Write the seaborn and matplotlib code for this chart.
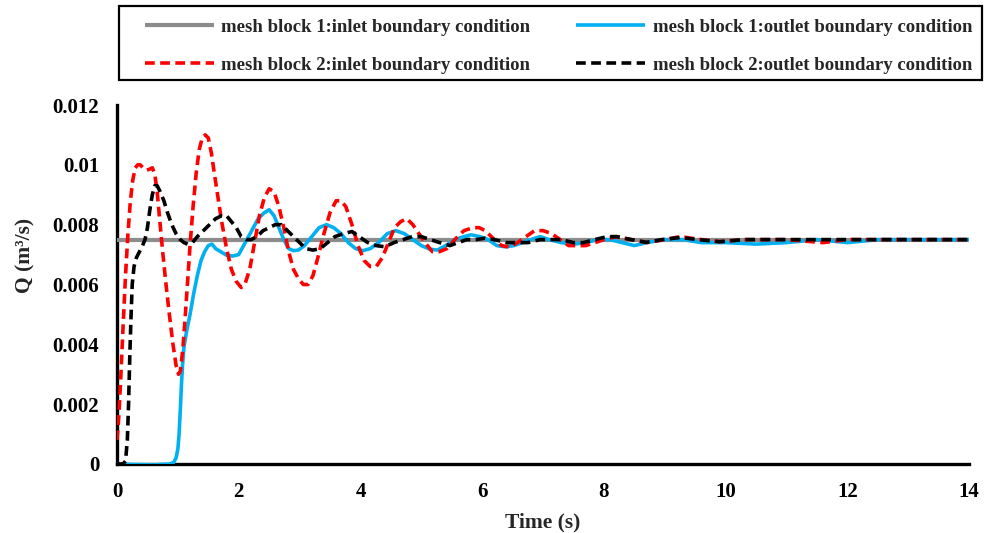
import numpy as np
import pandas as pd
import matplotlib
matplotlib.use("Agg")
import matplotlib.pyplot as plt
from matplotlib.patches import Rectangle
import seaborn as sns

# data (time in s, Q in m3/s)
t_inlet1 = [0, 14]
q_inlet1 = [0.0075, 0.0075]

t_outlet1 = [0, 0.3, 0.6, 0.87, 0.93, 0.97, 1.0, 1.02, 1.04, 1.06, 1.08, 1.1, 1.14,
             1.2, 1.26, 1.32, 1.38, 1.44, 1.5, 1.56, 1.62, 1.7, 1.8, 1.9, 2.0,
             2.08, 2.16, 2.24, 2.32, 2.42, 2.5, 2.58, 2.66, 2.74, 2.82, 2.9, 2.98,
             3.08, 3.2, 3.32, 3.44, 3.56, 3.68, 3.8, 3.92, 4.04, 4.16, 4.3, 4.44,
             4.58, 4.72, 4.86, 5.0, 5.14, 5.26, 5.4, 5.55, 5.7, 5.82, 5.96, 6.1,
             6.24, 6.38, 6.52, 6.66, 6.8, 6.95, 7.1, 7.3, 7.5, 7.7, 7.9, 8.1, 8.3,
             8.5, 8.7, 9.0, 9.3, 9.6, 10.0, 10.5, 11.0, 11.5, 12.0, 12.5, 14]
q_outlet1 = [0.0, -0.00002, -0.00003, 0.0, 0.00005, 0.0002, 0.0005, 0.001, 0.0018,
             0.0027, 0.0034, 0.0039, 0.0044, 0.005, 0.0057, 0.0063, 0.0068,
             0.0071, 0.0073, 0.00735, 0.0072, 0.0071, 0.00698, 0.00695, 0.007,
             0.0073, 0.0076, 0.0079, 0.0082, 0.0084, 0.0085, 0.0083, 0.0079,
             0.0075, 0.0072, 0.00713, 0.00715, 0.0073, 0.0076, 0.0079, 0.008,
             0.0079, 0.0077, 0.0074, 0.0072, 0.00713, 0.0072, 0.0074, 0.0077,
             0.0078, 0.0077, 0.0075, 0.0073, 0.00718, 0.00715, 0.0073, 0.0075,
             0.0076, 0.00766, 0.0076, 0.0075, 0.0073, 0.00726, 0.0073, 0.0074,
             0.0075, 0.0076, 0.0075, 0.0074, 0.00735, 0.0074, 0.0075, 0.0075,
             0.0074, 0.0073, 0.0074, 0.0075, 0.0075, 0.0074, 0.0074, 0.00735,
             0.0074, 0.0075, 0.0074, 0.0075, 0.0075]

t_inlet2 = [0, 0.03, 0.06, 0.1, 0.14, 0.18, 0.22, 0.26, 0.3, 0.34, 0.38, 0.43,
            0.48, 0.53, 0.58, 0.62, 0.66, 0.7, 0.75, 0.8, 0.86, 0.92, 0.97, 1.01,
            1.04, 1.08, 1.12, 1.16, 1.2, 1.25, 1.3, 1.35, 1.4, 1.45, 1.5, 1.55,
            1.6, 1.66, 1.72, 1.8, 1.88, 1.96, 2.04, 2.1, 2.18, 2.26, 2.34, 2.42,
            2.5, 2.58, 2.66, 2.74, 2.82, 2.9, 2.98, 3.06, 3.14, 3.22, 3.3, 3.4,
            3.5, 3.6, 3.68, 3.76, 3.86, 3.96, 4.06, 4.16, 4.26, 4.36, 4.46, 4.56,
            4.66, 4.76, 4.86, 4.96, 5.06, 5.18, 5.3, 5.42, 5.55, 5.7, 5.85, 5.95,
            6.05, 6.2, 6.32, 6.45, 6.58, 6.72, 6.86, 7.0, 7.14, 7.28, 7.42, 7.56,
            7.7, 7.85, 8.0, 8.2, 8.45, 8.7, 9.0, 9.25, 9.6, 9.9, 10.3, 11.0, 11.6,
            12.0, 14]
q_inlet2 = [0.0008, 0.0016, 0.0028, 0.0046, 0.0063, 0.0077, 0.0088, 0.0095,
            0.0099, 0.01, 0.01, 0.0099, 0.00982, 0.00985, 0.0099, 0.0097, 0.0091,
            0.0082, 0.0071, 0.0061, 0.005, 0.004, 0.0033, 0.003, 0.0031, 0.0038,
            0.0049, 0.0061, 0.0073, 0.0086, 0.0097, 0.0105, 0.0109, 0.011,
            0.0109, 0.0104, 0.0097, 0.0089, 0.0081, 0.0072, 0.0065, 0.0061,
            0.0059, 0.006, 0.0065, 0.0074, 0.0083, 0.0089, 0.0092, 0.0091,
            0.0086, 0.0079, 0.0071, 0.0065, 0.0062, 0.006, 0.006, 0.0063, 0.0069,
            0.0077, 0.0084, 0.0088, 0.0088, 0.0086, 0.008, 0.0073, 0.0068,
            0.0066, 0.0066, 0.0069, 0.0074, 0.0079, 0.0081, 0.0082, 0.008,
            0.0077, 0.0074, 0.0071, 0.0071, 0.0072, 0.0075, 0.0078, 0.0079,
            0.0079, 0.0078, 0.0075, 0.0073, 0.00725, 0.0074, 0.0076, 0.0078,
            0.0078, 0.0077, 0.0075, 0.0073, 0.0073, 0.0073, 0.0074, 0.0075,
            0.0076, 0.0075, 0.0074, 0.0075, 0.0076, 0.0075, 0.00743, 0.0075,
            0.0075, 0.0074, 0.0075, 0.0075]

t_outlet2 = [0, 0.1, 0.14, 0.17, 0.19, 0.21, 0.23, 0.25, 0.28, 0.32, 0.37, 0.42,
             0.46, 0.5, 0.54, 0.58, 0.62, 0.66, 0.71, 0.77, 0.83, 0.9, 0.97,
             1.04, 1.1, 1.16, 1.24, 1.32, 1.42, 1.52, 1.62, 1.72, 1.8, 1.88,
             1.96, 2.04, 2.12, 2.2, 2.3, 2.4, 2.5, 2.6, 2.7, 2.8, 2.9, 3.0, 3.1,
             3.22, 3.34, 3.46, 3.58, 3.72, 3.86, 3.98, 4.12, 4.26, 4.4, 4.55, 4.7,
             4.85, 5.0, 5.15, 5.3, 5.47, 5.6, 5.75, 5.9, 6.05, 6.2, 6.4, 6.57,
             6.75, 6.95, 7.1, 7.3, 7.5, 7.66, 7.85, 8.05, 8.21, 8.45, 8.7, 8.95,
             9.25, 9.55, 9.9, 10.3, 14]
q_outlet2 = [0.0, 0.0, 0.0001, 0.0008, 0.002, 0.0036, 0.0049, 0.006, 0.0066,
             0.0069, 0.0071, 0.0073, 0.0075, 0.0079, 0.0085, 0.009, 0.0093,
             0.0093, 0.0091, 0.0088, 0.0084, 0.008, 0.0077, 0.0075, 0.0074,
             0.00735, 0.0074, 0.0076, 0.0078, 0.008, 0.0082, 0.0083, 0.0083,
             0.0081, 0.0079, 0.0076, 0.0075, 0.0075, 0.0076, 0.0078, 0.0079,
             0.008, 0.008, 0.0078, 0.0076, 0.0074, 0.0072, 0.00715, 0.0072,
             0.0074, 0.0076, 0.0077, 0.00777, 0.0076, 0.0074, 0.0073, 0.00726,
             0.0074, 0.0075, 0.0076, 0.0076, 0.0075, 0.0074, 0.0073, 0.0074,
             0.0075, 0.0075, 0.00755, 0.0075, 0.0074, 0.0074, 0.0074, 0.0075,
             0.0075, 0.0075, 0.0074, 0.0074, 0.0075, 0.0076, 0.0076, 0.0075,
             0.00741, 0.0075, 0.00757, 0.0075, 0.00743, 0.0075, 0.0075]

labels = ["mesh block 1:inlet boundary condition",
          "mesh block 1:outlet boundary condition",
          "mesh block 2:inlet boundary condition",
          "mesh block 2:outlet boundary condition"]

x_ticks = [0, 2, 4, 6, 8, 10, 12, 14]
y_ticks = [0, 0.002, 0.004, 0.006, 0.008, 0.01, 0.012]
y_ticklabels = ["0", "0.002", "0.004", "0.006", "0.008", "0.01", "0.012"]

sns.set_theme(style="white")
plt.rcParams["font.family"] = ["Liberation Serif", "DejaVu Serif"]
plt.rcParams["font.weight"] = "bold"

fig = plt.figure(figsize=(9.84, 5.33), dpi=100)
ax = fig.add_axes([0.1189, 0.1295, 0.866, 0.6735])

lw = 2.6
dash = (2.7, 1.5)
sns.lineplot(x=t_inlet1, y=q_inlet1, ax=ax, color="#8c8c8c", lw=3.0,
             label=labels[0], sort=False)
sns.lineplot(x=t_outlet1, y=q_outlet1, ax=ax, color="#00b0f0", lw=lw,
             label=labels[1], sort=False)
sns.lineplot(x=t_inlet2, y=q_inlet2, ax=ax, color="#ff0000", lw=lw,
             dashes=dash, label=labels[2], sort=False)
sns.lineplot(x=t_outlet2, y=q_outlet2, ax=ax, color="#000000", lw=lw,
             dashes=dash, label=labels[3], sort=False)
for line in ax.lines:
    line.set_solid_capstyle("butt")

ax.set_xlim(0, 14)
ax.set_ylim(0, 0.012)
ax.set_xticks(x_ticks)
ax.set_xticklabels([str(v) for v in x_ticks])
ax.set_yticks(y_ticks)
ax.set_yticklabels(y_ticklabels)

for s in ["top", "right"]:
    ax.spines[s].set_visible(False)
for s in ["left", "bottom"]:
    ax.spines[s].set_linewidth(2.4)
    ax.spines[s].set_color("black")
    ax.spines[s].set_zorder(1)
ax.tick_params(axis="both", direction="inout", length=7.5, width=2.4,
               labelsize=15, pad=9, colors="black")
for lab in ax.get_xticklabels() + ax.get_yticklabels():
    lab.set_fontweight("bold")

ax.set_xlabel("Time (s)", fontsize=15.5, fontweight="bold")
ax.set_ylabel("Q (m³/s)", fontsize=15.5, fontweight="bold")
ax.xaxis.set_label_coords(0.5, -0.135)
ax.yaxis.set_label_coords(-0.096, 0.58)

handles, labs = ax.get_legend_handles_labels()
order = [0, 2, 1, 3]
leg = ax.legend([handles[i] for i in order], [labs[i] for i in order],
                loc="lower left", bbox_to_anchor=(0.0258, 1.0696, 0.9847, 0.2),
                mode="expand", ncol=2, handlelength=3.7, handletextpad=0.38,
                labelspacing=1.14, borderpad=0.32, borderaxespad=0,
                frameon=False, prop={"weight": "bold", "size": 13.5})

# legend frame, wider on the left than the legend contents
fig.add_artist(Rectangle((119 / 984, 1 - 80 / 533), 863 / 984, 74 / 533,
                         transform=fig.transFigure, fill=False,
                         edgecolor="black", lw=1.6))

fig.savefig("out.png", dpi=100)
